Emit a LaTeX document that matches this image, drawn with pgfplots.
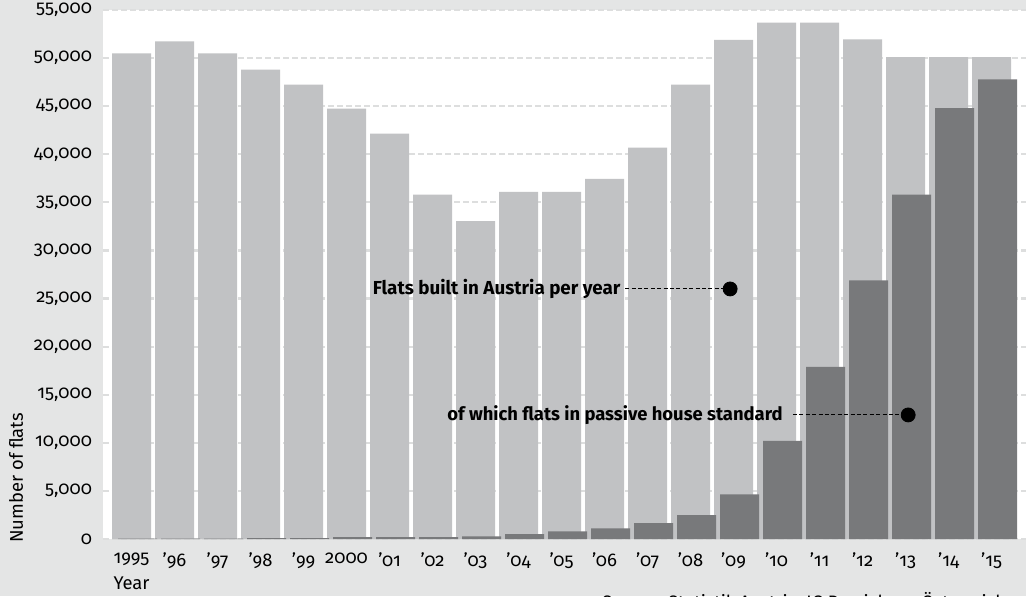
\documentclass[border=0pt]{standalone}
\usepackage{fontspec}
\setmainfont{Fira Sans}[Numbers=OldStyle]
\usepackage{pgfplots}
\pgfplotsset{compat=1.18}

\definecolor{bgGray}{HTML}{E4E5E5}
\definecolor{lightBar}{HTML}{C1C2C4}
\definecolor{darkBar}{HTML}{78797B}
\definecolor{gridGray}{HTML}{DDDEDE}

\begin{document}
\begin{tikzpicture}
% page background (1px = 0.5pt)
\fill[bgGray] (-51.5pt,-28.5pt) rectangle (461.5pt,269.5pt);
\begin{axis}[
  at={(0,0)}, anchor=south west,
  scale only axis,
  width=461.5pt, height=264.5pt,
  axis background/.style={fill=white},
  xmin=-0.663, xmax=20.80,
  ymin=0, ymax=55000,
  ytick={0,5000,...,55000},
  xtick={0,...,20},
  xticklabels={1995,'96,'97,'98,'99,2000,'01,'02,'03,'04,'05,'06,'07,'08,'09,'10,'11,'12,'13,'14,'15},
  /pgf/number format/.cd, fixed, 1000 sep={,}, assume math mode=true,
  /pgfplots/.cd,
  scaled y ticks=false,
  axis line style={draw=none},
  major tick length=0pt,
  tick label style={font=\fontsize{9.2}{10}\selectfont, text=black},
  yticklabel style={xshift=-2pt},
  xticklabel style={yshift=-3.5pt},
  ymajorgrids,
  grid style={gridGray, line width=1.1pt, dash pattern=on 3pt off 1.5pt},
  clip=false,
]
% flats built in Austria per year
\addplot[ybar, bar width=19.5pt, bar shift=0pt, fill=lightBar, draw=none]
coordinates {(0,50500) (1,51750) (2,50500) (3,48800) (4,47250) (5,44750) (6,42150)
(7,35800) (8,33050) (9,36100) (10,36100) (11,37450) (12,40700) (13,47250)
(14,51900) (15,53700) (16,53700) (17,51950) (18,50100) (19,50100) (20,50100)};
% of which passive house standard
\addplot[ybar, bar width=19.5pt, bar shift=3pt, fill=darkBar, draw=none]
coordinates {(0,40) (1,40) (2,40) (3,80) (4,80) (5,190) (6,190)
(7,190) (8,280) (9,500) (10,800) (11,1100) (12,1650) (13,2480)
(14,4650) (15,10200) (16,17900) (17,26900) (18,35800) (19,44800) (20,47800)};

% annotations
\addplot[black, line width=0.5pt, dash pattern=on 2pt off 1.2pt] coordinates {(11.48,26000) (13.92,26000)};
\addplot[only marks, mark=*, mark size=3.5pt, black] coordinates {(13.92,26000)};
\node[anchor=east, font=\bfseries\fontsize{9.4}{11}\selectfont, inner sep=0pt] at (axis cs:11.38,26000) {Flats built in Austria per year};

\addplot[black, line width=0.5pt, dash pattern=on 2pt off 1.2pt] coordinates {(15.38,12900) (18.06,12900)};
\addplot[only marks, mark=*, mark size=3.5pt, black] coordinates {(18.06,12900)};
\node[anchor=east, font=\bfseries\fontsize{9.2}{11}\selectfont, inner sep=0pt] at (axis cs:15.15,12900) {of which flats in passive house standard};
\end{axis}

\node[anchor=north, font=\fontsize{9.2}{10}\selectfont, inner sep=0pt] at (14.25pt,-18.5pt) {Year};
\node[rotate=90, anchor=west, font=\fontsize{9.2}{10}\selectfont, inner sep=0pt] at (-43.5pt,-2pt) {Number of flats};
\node[anchor=north west, font=\fontsize{9}{10}\selectfont, inner sep=0pt] at (249.5pt,-26.5pt) {Source: Statistik Austria, IG Passivhaus Österreich};

\pgfresetboundingbox
\path (-51.5pt,-28.5pt) rectangle (461.5pt,269.5pt);
\end{tikzpicture}
\end{document}
